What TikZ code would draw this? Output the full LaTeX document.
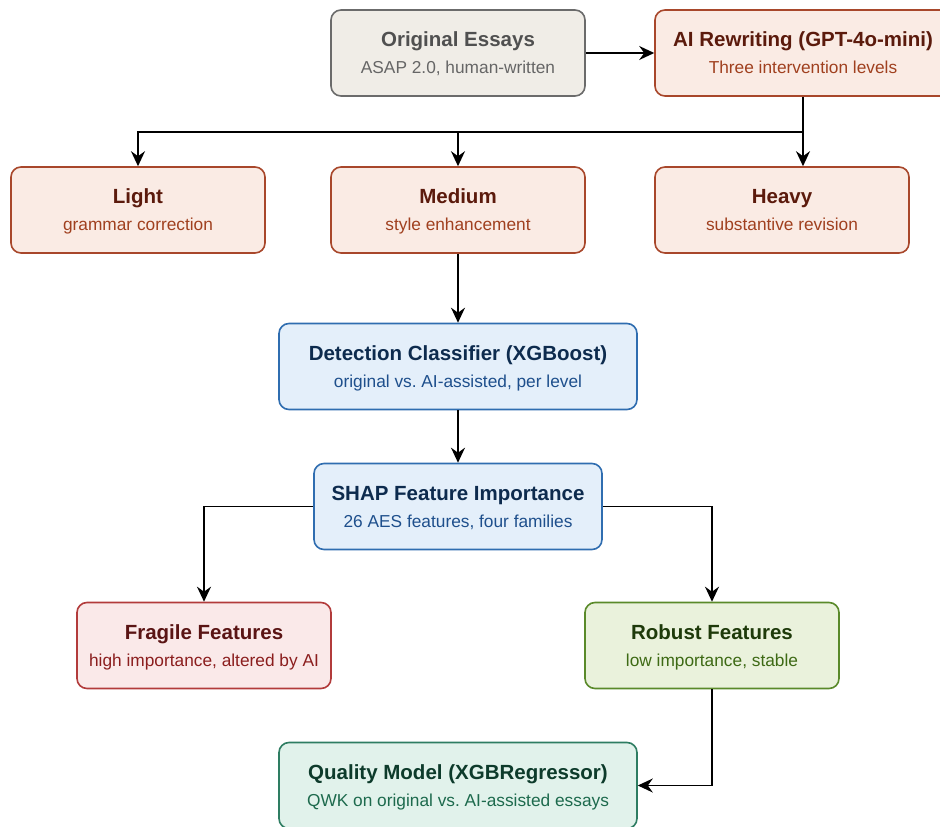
\documentclass[tikz,border=0pt]{standalone}
\usepackage{fontspec}
\setmainfont{Liberation Sans}
\usetikzlibrary{arrows.meta,calc}

\definecolor{origF}{HTML}{F0EDE7}\definecolor{origD}{HTML}{6B6B6B}\definecolor{origT}{HTML}{505050}\definecolor{origS}{HTML}{666666}
\definecolor{peachF}{HTML}{FAEBE4}\definecolor{peachD}{HTML}{A8472B}\definecolor{peachT}{HTML}{5B1A0C}\definecolor{peachS}{HTML}{A0401F}
\definecolor{blueF}{HTML}{E4EFFA}\definecolor{blueD}{HTML}{2F6DB0}\definecolor{blueT}{HTML}{0D2B4E}\definecolor{blueS}{HTML}{1E4F8C}
\definecolor{fragF}{HTML}{FAE9E9}\definecolor{fragD}{HTML}{B23B3B}\definecolor{fragT}{HTML}{5A1414}\definecolor{fragS}{HTML}{8B1E1E}
\definecolor{robF}{HTML}{EAF2DC}\definecolor{robD}{HTML}{5A8A2A}\definecolor{robT}{HTML}{1E3A0A}\definecolor{robS}{HTML}{3E6A15}
\definecolor{qualF}{HTML}{E1F2EB}\definecolor{qualD}{HTML}{2E7D62}\definecolor{qualT}{HTML}{0D3B2B}\definecolor{qualS}{HTML}{1D6A4D}

% #1 name, #2 cx, #3 cy, #4 width, #5 colour prefix, #6 title, #7 subtitle
\newcommand\flowbox[7]{%
  \node[boxshape, fill=#5F, draw=#5D, minimum width=#4pt] (#1) at (#2,#3) {};
  \node[ttl, text=#5T] (#1-t) at ($(#1.center)+(0,-6.5)$) {#6};
  \node[subt, text=#5S] (#1-s) at ($(#1.center)+(0,20.5)$) {#7};
}

\begin{document}
\begin{tikzpicture}[x=1pt,y=-1pt,
  boxshape/.style={rectangle, rounded corners=10pt, line width=1.6pt, minimum height=86pt, inner sep=0pt},
  ttl/.style={anchor=base, inner sep=0pt, font=\fontsize{20.5}{24}\selectfont\bfseries},
  subt/.style={anchor=base, inner sep=0pt, font=\fontsize{17.3}{20}\selectfont},
  arrow/.style={line width=1.6pt, draw=black, -{Stealth[length=15pt,width=14pt,inset=5pt]}},
  conn/.style={line width=1.6pt, draw=black}]
\useasboundingbox (0,0) rectangle (940,827);

\flowbox{orig}{458}{53}{254}{orig}{Original Essays}{ASAP 2.0, human-written}
\flowbox{ai}{803}{53}{296}{peach}{AI Rewriting (GPT-4o-mini)}{Three intervention levels}
\flowbox{light}{138}{210}{254}{peach}{Light}{grammar correction}
\flowbox{medium}{458}{210}{254}{peach}{Medium}{style enhancement}
\flowbox{heavy}{782}{210}{254}{peach}{Heavy}{substantive revision}
\flowbox{detect}{458}{366.5}{358}{blue}{Detection Classifier (XGBoost)}{original vs.\ AI-assisted, per level}
\flowbox{shap}{458}{506.5}{288}{blue}{SHAP Feature Importance}{26 AES features, four families}
\flowbox{frag}{204}{645.5}{254}{frag}{Fragile Features}{high importance, altered by AI}
\flowbox{rob}{712}{645.5}{254}{rob}{Robust Features}{low importance, stable}
\flowbox{qual}{458}{785.5}{358}{qual}{Quality Model (XGBRegressor)}{QWK on original vs.\ AI-assisted essays}

\draw[arrow] (orig.east) -- (ai.west);
\coordinate (bus) at ($(ai.south)+(0,35)$);
\draw[arrow] (ai.south) -- (ai.south |- heavy.north);
\draw[arrow] (bus) -| (light.north);
\draw[arrow] (medium.north |- bus) -- (medium.north);
\draw[arrow] (medium.south) -- (detect.north);
\draw[arrow] (detect.south) -- (shap.north);
\draw[arrow] (shap.west) -| (frag.north);
\draw[arrow] (shap.east) -| (rob.north);
\draw[arrow] (rob.south) |- (qual.east);
\end{tikzpicture}
\end{document}
